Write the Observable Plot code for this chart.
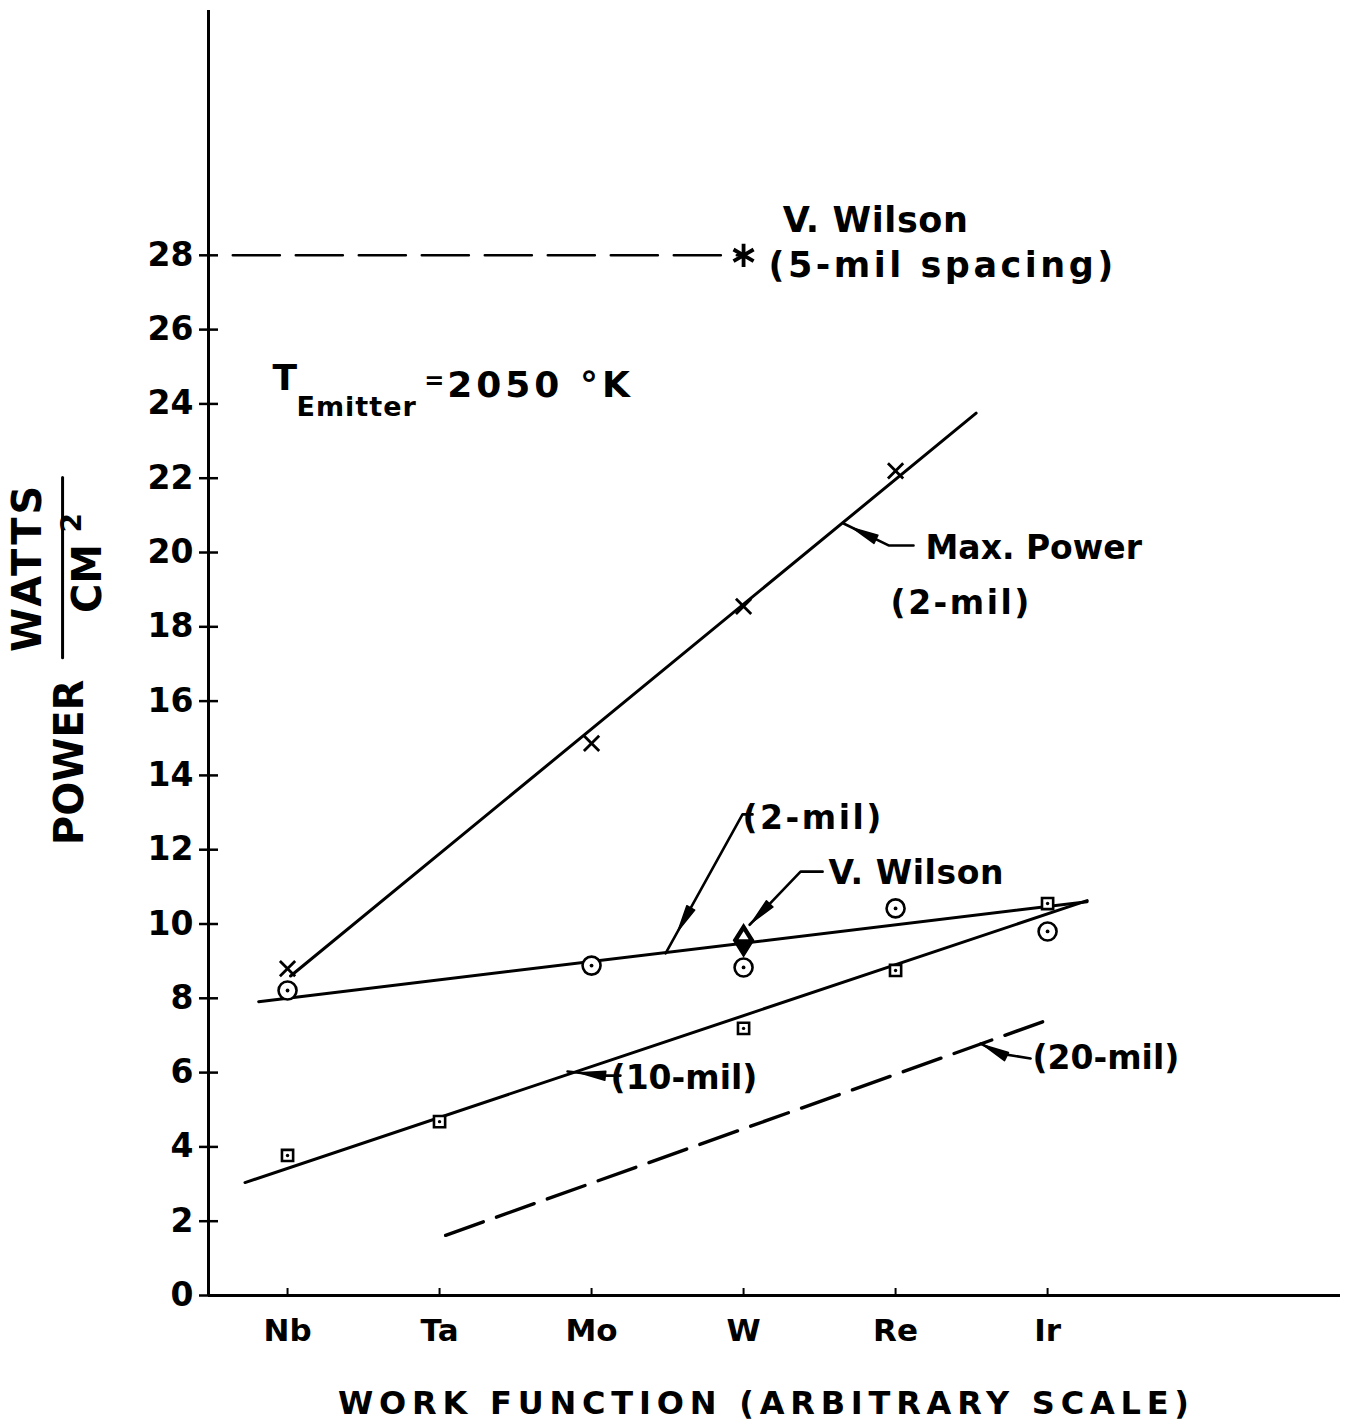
<!DOCTYPE html>
<html><head><meta charset="utf-8">
<script src="https://cdn.jsdelivr.net/npm/d3@7"></script>
<script src="https://cdn.jsdelivr.net/npm/@observablehq/plot@0.6"></script>
<style>
html,body{margin:0;padding:0;background:#fff}
#chart svg{display:block}
</style>
</head><body><div id="chart"></div>
<script>
// ---------- data ----------
const elements = ["Nb", "Ta", "Mo", "W", "Re", "Ir"];
const yTicks = [0, 2, 4, 6, 8, 10, 12, 14, 16, 18, 20, 22, 24, 26, 28];

// Max. Power (2-mil): x markers and fitted line
const maxPowerElements = ["Nb", "Mo", "W", "Re"];
const maxPowerValues = [8.8, 14.86, 18.55, 22.2];
const maxPowerFitX = [1.02, 5.53];
const maxPowerFitY = [8.6, 23.75];

// 2-mil: circled-dot markers and fitted line
const twoMilElements = ["Nb", "Mo", "W", "Re", "Ir"];
const twoMilValues = [8.21, 8.88, 8.83, 10.42, 9.8];
const twoMilFitX = [0.81, 6.26];
const twoMilFitY = [7.91, 10.6];

// 10-mil: square markers and fitted line
const tenMilElements = ["Nb", "Ta", "W", "Re", "Ir"];
const tenMilValues = [3.77, 4.68, 7.19, 8.75, 10.55];
const tenMilFitX = [0.72, 6.26];
const tenMilFitY = [3.04, 10.63];

// 20-mil: dashed line only
const twentyMilFitX = [2.04, 5.99];
const twentyMilFitY = [1.62, 7.4];

// V. Wilson points
const wilson5milElement = "W";
const wilson5milValue = 28;
const wilson5milRefX = [0.64, 4];
const wilson2milElement = "W";
const wilson2milValue = 9.56;

// annotation texts: [text, x (element index units), y (W/cm2), font size]
const annotTexts = [
  ["V. Wilson", 4.257, 28.94, 35],
  ["(5-mil spacing)", 4.164, 27.73, 35],
  ["Max. Power", 5.197, 20.11, 33],
  ["(2-mil)", 4.967, 18.63, 33],
  ["(2-mil)", 3.993, 12.84, 33],
  ["V. Wilson", 4.559, 11.36, 33],
  ["(10-mil)", 3.125, 5.84, 33],
  ["(20-mil)", 5.901, 6.38, 33]
];
// leader polylines: [id, [[x,y],...], arrow tip inset px]
const leaders = [
  ["maxpower", [[5.118, 20.19], [4.954, 20.19], [4.658, 20.78]], 10],
  ["twomil", [[4.059, 12.95], [3.993, 12.95], [3.487, 9.21]], 26],
  ["wilson", [[4.52, 11.41], [4.375, 11.41], [4.04, 9.98]], 3],
  ["tenmil", [[3.19, 5.92], [3.079, 5.92], [2.842, 6.03]], 12],
  ["twentymil", [[5.888, 6.38], [5.691, 6.51], [5.559, 6.78]], 3]
];

// temperature label parts
const tempT = ["T", 0.901, 24.68];
const tempSub = ["Emitter", 1.059, 23.9];
const tempEq = ["=", 1.9, 24.62];
const tempRest = ["2050 °K", 2.05, 24.5];

// y-axis label parts
const yLabelPower = ["POWER", -0.428, 14.35];
const yLabelWatts = ["WATTS", -0.704, 19.6];
const yLabelCm = ["CM", -0.31, 19.3];
const yLabelSq = ["2", -0.42, 20.8];
const yLabelBarX = -0.48;
const yLabelBarY = [17.17, 22.02];

const xTitle = "WORK FUNCTION (ARBITRARY SCALE)";
const xTitlePos = 4.15;

// ---------- build ----------
const W = 1345, H = 1421, mL = 208, mR = 5, mT = 10, mB = 126;
const xDomain = [0.48, 7.927];
const yDomain = [0, 34.59];
const kx = (W - mL - mR) / (xDomain[1] - xDomain[0]);   // px per x unit
const ky = (H - mT - mB) / (yDomain[1] - yDomain[0]);   // px per y unit
const font = "DejaVu Sans";
const pos = e => elements.indexOf(e) + 1;

const pts = (els, vals) => els.map((e, i) => ({x: pos(e), y: vals[i]}));
const seg = (xs, ys) => xs.map((x, i) => ({x, y: ys[i]}));

const maxPts = pts(maxPowerElements, maxPowerValues);
const twoPts = pts(twoMilElements, twoMilValues);
const tenPts = pts(tenMilElements, tenMilValues);

const leaderRows = leaders.flatMap(([id, p]) => p.map(([x, y]) => ({id, x, y})));
// filled arrowheads derived from the last segment of each leader
const headLen = 26, headHalf = 4.5;
const headRows = leaders.flatMap(([id, p, inset]) => {
  const a = p[p.length - 2], b = p[p.length - 1];
  const dx = (b[0] - a[0]) * kx, dy = (b[1] - a[1]) * ky;
  const L = Math.hypot(dx, dy), ux = dx / L, uy = dy / L;
  const tip = [b[0] - ux * inset / kx, b[1] - uy * inset / ky];
  const base = [tip[0] - ux * headLen / kx, tip[1] - uy * headLen / ky];
  const c1 = [base[0] - uy * headHalf / kx, base[1] + ux * headHalf / ky];
  const c2 = [base[0] + uy * headHalf / kx, base[1] - ux * headHalf / ky];
  return [tip, c1, c2, tip].map(([x, y]) => ({id, x, y}));
});

// custom marker shapes for the V. Wilson (2-mil) point
const tallDiamond = {draw(ctx) { ctx.moveTo(0, -16); ctx.lineTo(10, 0); ctx.lineTo(0, 16); ctx.lineTo(-10, 0); ctx.closePath(); }};
const innerTriangle = {draw(ctx) { ctx.moveTo(0, -9); ctx.lineTo(5, -1); ctx.lineTo(-5, -1); ctx.closePath(); }};

const txt = (row, opts) => Plot.text([row], {x: d => d[1], y: d => d[2], text: d => d[0],
  fontFamily: font, fontWeight: "bold", fill: "black", ...opts});

const chart = Plot.plot({
  width: W,
  height: H,
  marginLeft: mL,
  marginRight: mR,
  marginTop: mT,
  marginBottom: mB,
  x: {type: "linear", domain: xDomain, axis: null},
  y: {type: "linear", domain: yDomain, axis: null},
  style: {background: "white", fontFamily: font},
  marks: [
    // axes
    Plot.ruleX([xDomain[0]], {stroke: "black", strokeWidth: 3}),
    Plot.ruleY([0], {stroke: "black", strokeWidth: 3}),
    Plot.ruleY(yTicks, {y: d => d, x1: xDomain[0] - 9 / kx, x2: xDomain[0] + 10 / kx, stroke: "black", strokeWidth: 2.5}),
    Plot.ruleX(elements, {x: d => pos(d), y1: 0, y2: 7 / ky, stroke: "black", strokeWidth: 2}),
    Plot.text(yTicks, {x: xDomain[0], y: d => d, text: d => String(d), dx: -15, textAnchor: "end",
      fontSize: 33, fontWeight: "bold", fontFamily: font}),
    Plot.text(elements, {x: d => pos(d), y: 0, text: d => d, dy: 36,
      fontSize: 31, fontWeight: "bold", fontFamily: font}),
    Plot.text([xTitle], {x: xTitlePos, y: 0, text: d => d, dy: 108,
      fontSize: 32, fontWeight: "bold", fontFamily: font}),

    // y label
    txt(yLabelPower, {rotate: -90, fontSize: 40}),
    txt(yLabelWatts, {rotate: -90, fontSize: 40}),
    txt(yLabelCm, {rotate: -90, fontSize: 40}),
    txt(yLabelSq, {rotate: -90, fontSize: 28}),
    Plot.line(yLabelBarY.map(y => ({x: yLabelBarX, y})), {x: "x", y: "y", stroke: "black", strokeWidth: 3}),

    // reference dashed line at 28
    Plot.line(wilson5milRefX.map(x => ({x, y: wilson5milValue})), {x: "x", y: "y", stroke: "black",
      strokeWidth: 2.6, strokeDasharray: "47,16"}),

    // fitted lines
    Plot.line(seg(maxPowerFitX, maxPowerFitY), {x: "x", y: "y", stroke: "black", strokeWidth: 3}),
    Plot.line(seg(twoMilFitX, twoMilFitY), {x: "x", y: "y", stroke: "black", strokeWidth: 3}),
    Plot.line(seg(tenMilFitX, tenMilFitY), {x: "x", y: "y", stroke: "black", strokeWidth: 3}),
    Plot.line(seg(twentyMilFitX, twentyMilFitY), {x: "x", y: "y", stroke: "black", strokeWidth: 3.4,
      strokeDasharray: "40,14"}),

    // leaders with filled arrowheads
    Plot.line(leaderRows, {x: "x", y: "y", z: "id", stroke: "black", strokeWidth: 2.6}),
    Plot.line(headRows, {x: "x", y: "y", z: "id", fill: "black", stroke: "black", strokeWidth: 1.5}),

    // markers
    Plot.dot(maxPts, {x: "x", y: "y", symbol: "times", r: 7, stroke: "black", strokeWidth: 2.8}),
    Plot.dot(twoPts, {x: "x", y: "y", symbol: "circle", r: 9, stroke: "black", strokeWidth: 2.6, fill: "white"}),
    Plot.dot(twoPts, {x: "x", y: "y", r: 1.9, fill: "black", stroke: null}),
    Plot.dot(tenPts, {x: "x", y: "y", symbol: "square", r: 6.3, stroke: "black", strokeWidth: 2.6, fill: "white"}),
    Plot.dot(tenPts, {x: "x", y: "y", r: 1.7, fill: "black", stroke: null}),
    Plot.dot([{x: pos(wilson5milElement), y: wilson5milValue}], {x: "x", y: "y", symbol: "asterisk", r: 11,
      stroke: "black", strokeWidth: 3.8}),
    Plot.dot([{x: pos(wilson2milElement), y: wilson2milValue}], {x: "x", y: "y", symbol: tallDiamond,
      stroke: "black", strokeWidth: 1.5, fill: "black"}),
    Plot.dot([{x: pos(wilson2milElement), y: wilson2milValue}], {x: "x", y: "y", symbol: innerTriangle,
      fill: "white", stroke: null}),

    // annotation texts
    Plot.text(annotTexts, {x: d => d[1], y: d => d[2], text: d => d[0], textAnchor: "start",
      fontSize: d => d[3], fontWeight: "bold", fontFamily: font}),
    txt(tempT, {textAnchor: "start", fontSize: 36}),
    txt(tempSub, {textAnchor: "start", fontSize: 27}),
    txt(tempEq, {textAnchor: "start", fontSize: 24}),
    txt(tempRest, {textAnchor: "start", fontSize: 36})
  ]
});

document.getElementById("chart").appendChild(chart);

// letter spacing to match the wide stencil lettering
const spacing = new Map([
  [xTitle, "5.8px"],
  ["(5-mil spacing)", "3.5px"],
  ["V. Wilson", "0.6px"],
  ["(2-mil)", "2.5px"],
  ["Emitter", "1px"],
  ["2050 °K", "4px"],
  ["WATTS", "3px"]
]);
d3.select(chart).selectAll("text").each(function () {
  const s = spacing.get(this.textContent);
  if (s) this.style.letterSpacing = s;
});
</script>
</body></html>
